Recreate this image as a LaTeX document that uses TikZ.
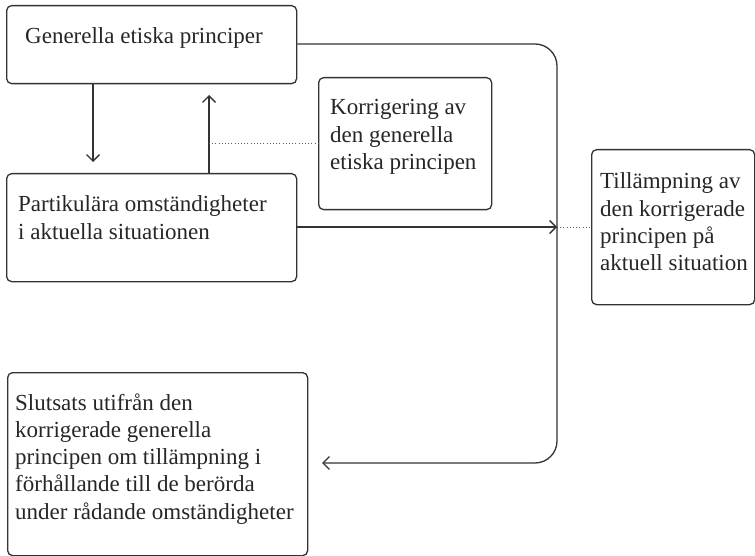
\documentclass[tikz,border=0pt]{standalone}
\usepackage{fontspec}
\setmainfont{Liberation Serif}
\usetikzlibrary{arrows.meta,calc}
\definecolor{ln}{HTML}{333333}
\definecolor{tx}{HTML}{262626}
\tikzset{
  boxr/.style={draw=ln, line width=1.3pt, rounded corners=5pt, inner sep=0pt, anchor=north west},
  lbl/.style={anchor=base west, inner sep=0pt, text=tx, font=\fontsize{23}{27.3}\selectfont},
  conn/.style={draw=ln, line width=1.3pt, -{Straight Barb[length=6.5pt,width=13pt,line width=1.3pt]}},
  dots/.style={draw=ln!80, line width=0.9pt, dash pattern=on 0.9pt off 2.3pt}
}
\newcommand{\tb}[2]{\parbox[t]{#1}{\raggedright #2}}
\begin{document}
\begin{tikzpicture}[x=1pt,y=-1pt]
\useasboundingbox (0,0) rectangle (755,556);
% boxes
\node[boxr, minimum width=290pt, minimum height=78pt] (b1) at (6,5) {};
\node[boxr, minimum width=290pt, minimum height=108pt] (b2) at (6,173) {};
\node[boxr, minimum width=173pt, minimum height=132pt] (b3) at (318,77) {};
\node[boxr, minimum width=163pt, minimum height=155pt] (b4) at (591,149) {};
\node[boxr, minimum width=300pt, minimum height=183pt] (b5) at (7,372) {};
% texts
\node[lbl] (t1) at (25,44) {\tb{270pt}{Generella etiska principer}};
\node[lbl] (t2) at (18,212) {\tb{280pt}{Partikulära omständigheter\\ i aktuella situationen}};
\node[lbl] (t3) at (330,115) {\tb{160pt}{Korrigering av\\ den generella\\ etiska principen}};
\node[lbl] (t4) at (600,189) {\tb{160pt}{Tillämpning av\\ den korrigerade\\ principen på\\ aktuell situation}};
\node[lbl] (t5) at (15,410) {\tb{300pt}{Slutsats utifrån den\\ korrigerade generella\\ principen om tillämpning i\\ förhållande till de berörda\\ under rådande omständigheter}};
% coordinates
\coordinate (downtip) at (93,162);
\coordinate (uptip) at (209,95);
\coordinate (vj) at (557,227);
\coordinate (bottomtip) at (322,463);
% connectors
\draw[conn] (b1.south -| downtip) -- (downtip);
\draw[conn] (b2.north -| uptip) -- (uptip);
\draw[dots] (209,143) -- (b3.west |- 0,143);
\draw[conn] (b2.east |- vj) -- (vj);
\draw[dots] (vj) -- (b4.west |- vj);
\draw[conn, rounded corners=22pt] (b1.east |- 0,44) -- (557,44) -- (557,463) -- (bottomtip);
\end{tikzpicture}
\end{document}
